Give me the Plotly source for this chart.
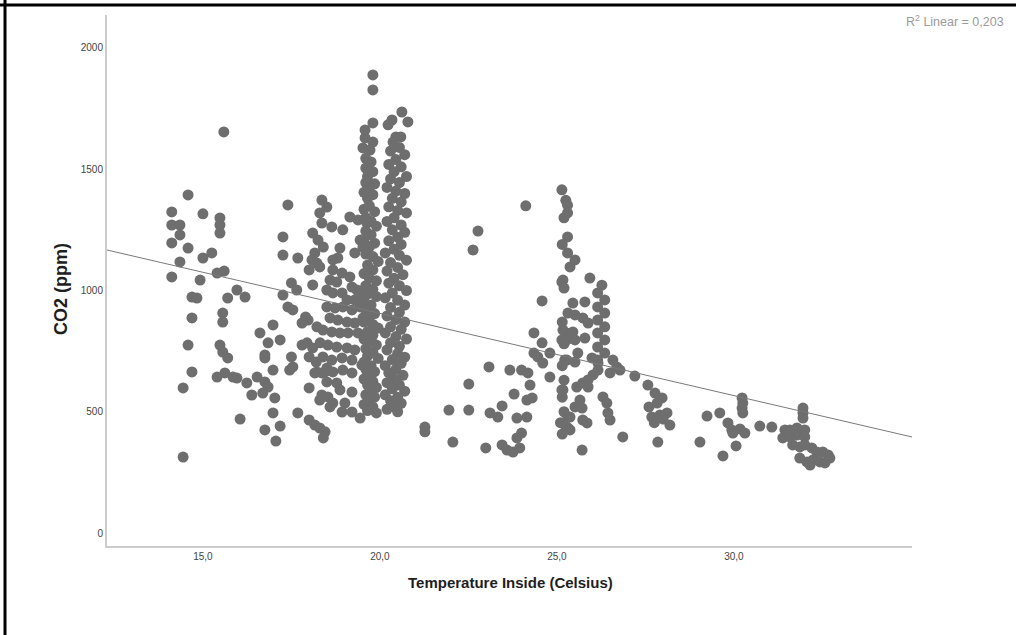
import plotly.graph_objects as go

# ---- data (temperature inside in Celsius, CO2 in ppm) ----
points_15 = [
    (15.59, 1654), (14.58, 1394), (14.12, 1324), (15.0, 1316), (15.48, 1299), (15.48, 1270), (15.48, 1237),
    (14.12, 1270), (14.35, 1270), (14.35, 1229), (14.12, 1196), (14.58, 1175), (15.25, 1155), (15.0, 1134),
    (14.35, 1118), (14.12, 1056), (14.92, 1043), (15.4, 1072), (15.6, 1080), (17.4, 1353), (17.26, 1221),
    (17.26, 1146), (17.68, 1134), (17.5, 1031), (17.65, 1002), (17.26, 981), (17.4, 932), (17.54, 920),
    (14.69, 973), (14.83, 969), (15.96, 1002), (15.7, 969), (16.19, 973), (14.69, 887), (15.56, 907),
    (15.56, 870), (14.58, 775), (15.48, 775), (15.56, 746), (15.7, 722), (14.69, 664), (14.44, 598),
    (14.44, 313), (15.4, 643), (15.62, 660), (15.85, 643), (15.96, 639), (16.24, 619), (16.53, 643),
    (16.75, 623), (16.84, 602), (16.38, 569), (16.69, 577), (17.03, 557), (16.98, 495), (16.05, 470),
    (16.75, 425), (17.18, 441), (17.06, 379), (16.61, 825), (16.98, 858), (17.18, 796), (16.84, 784),
    (16.75, 734), (16.75, 722), (16.98, 672), (17.5, 726), (17.45, 672), (17.54, 685), (17.68, 495),
]

points_18 = [
    (18.36, 1373), (18.5, 1344), (18.3, 1320), (18.36, 1278), (18.1, 1237), (18.25, 1208), (18.4, 1179),
    (18.16, 1155), (18.08, 1126), (18.22, 1113), (18.0, 1085), (18.3, 1097), (18.64, 1262), (18.95, 1250),
    (18.87, 1175), (18.1, 1023), (17.9, 891), (17.97, 878), (17.8, 866), (17.94, 784), (17.8, 775),
    (18.1, 763), (18.0, 726), (18.2, 705), (18.16, 660), (18.36, 660), (18.5, 680), (18.0, 598),
    (18.36, 569), (18.3, 548), (18.0, 466), (18.16, 445), (18.3, 433), (18.45, 417), (18.4, 392),
]

points_19 = [
    (18.67, 1126), (18.81, 1134), (18.67, 1085), (18.93, 1072), (18.59, 1043), (18.78, 1035), (18.50, 1002),
    (18.67, 990), (18.93, 990), (19.15, 1056), (19.21, 1014), (19.35, 1002), (19.07, 961), (19.29, 961),
    (19.49, 990), (18.50, 932), (18.73, 928), (18.95, 932), (19.21, 920), (19.44, 932), (18.59, 887),
    (18.81, 878), (19.07, 870), (19.29, 866), (19.52, 887), (18.22, 850), (18.39, 837), (18.64, 829),
    (18.87, 825), (19.10, 825), (19.38, 825), (18.31, 784), (18.53, 775), (18.78, 767), (19.07, 763),
    (19.29, 755), (18.39, 726), (18.64, 713), (18.93, 722), (19.21, 713), (19.49, 693), (18.22, 664),
    (18.45, 664), (18.67, 664), (18.95, 672), (19.21, 660), (18.50, 623), (18.78, 619), (18.87, 590),
    (19.21, 581), (18.53, 561), (18.67, 536), (18.93, 499), (19.21, 499), (19.44, 474), (18.59, 520),
    (19.01, 536), (19.15, 1303), (19.38, 1291), (19.63, 1278), (19.44, 1208), (19.29, 1155), (19.52, 1179),
]

points_19_8 = [
    (19.8, 1889), (19.8, 1827), (19.8, 1691), (19.58, 1662), (19.58, 1629), (19.8, 1612), (19.52, 1588),
    (19.72, 1579), (19.6, 1545), (19.75, 1530), (19.6, 1505), (19.8, 1490), (19.65, 1470), (19.6, 1445),
    (19.85, 1440), (19.7, 1420), (19.55, 1405), (19.8, 1395), (19.65, 1380), (19.7, 1350), (19.55, 1335),
    (19.85, 1325), (19.6, 1300), (19.75, 1285), (19.9, 1265), (19.6, 1245), (19.75, 1230), (19.55, 1210),
    (19.85, 1195), (19.7, 1180), (19.6, 1150), (19.8, 1140), (19.95, 1120), (19.65, 1105), (19.8, 1085),
    (19.55, 1070), (19.7, 1050), (19.9, 1040), (19.6, 1020), (19.8, 1005), (19.65, 985), (19.9, 975),
    (19.55, 955), (19.75, 940), (19.6, 920), (19.85, 905), (19.7, 890), (19.55, 870), (19.8, 860),
    (19.95, 845), (19.65, 830), (19.8, 815), (19.55, 800), (19.7, 790), (19.9, 775), (19.6, 760),
    (19.8, 745), (19.65, 730), (19.95, 720), (19.55, 705), (19.75, 690), (19.6, 675), (19.85, 665),
    (19.7, 650), (19.55, 635), (19.8, 625), (19.65, 610), (19.9, 600), (19.75, 585), (19.6, 570),
    (19.85, 560), (19.7, 545), (19.55, 530), (19.8, 520), (19.65, 505), (19.9, 495),
]

points_20_5 = [
    (20.62, 1736), (20.34, 1703), (20.79, 1695), (20.23, 1683), (20.45, 1633), (20.59, 1633), (20.37, 1612),
    (20.55, 1590), (20.3, 1575), (20.7, 1560), (20.45, 1540), (20.25, 1520), (20.6, 1510), (20.4, 1490),
    (20.75, 1470), (20.3, 1460), (20.55, 1445), (20.2, 1425), (20.45, 1410), (20.7, 1400), (20.35, 1380),
    (20.6, 1365), (20.25, 1345), (20.5, 1330), (20.75, 1320), (20.4, 1300), (20.2, 1285), (20.6, 1270),
    (20.35, 1250), (20.7, 1240), (20.5, 1220), (20.25, 1205), (20.6, 1190), (20.4, 1170), (20.15, 1155),
    (20.55, 1145), (20.75, 1125), (20.3, 1115), (20.5, 1095), (20.2, 1080), (20.65, 1065), (20.4, 1050),
    (20.25, 1030), (20.55, 1020), (20.75, 1000), (20.35, 990), (20.15, 970), (20.5, 960), (20.7, 940),
    (20.3, 930), (20.55, 910), (20.2, 895), (20.45, 880), (20.7, 870), (20.3, 850), (20.6, 840),
    (20.15, 825), (20.45, 810), (20.75, 800), (20.3, 785), (20.55, 770), (20.2, 755), (20.5, 740),
    (20.7, 725), (20.35, 715), (20.6, 700), (20.15, 690), (20.45, 675), (20.25, 660), (20.65, 650),
    (20.4, 635), (20.2, 620), (20.55, 610), (20.35, 595), (20.7, 585), (20.15, 570), (20.5, 560),
    (20.3, 545), (20.6, 535), (20.4, 520), (20.2, 510), (20.5, 500),
]

points_23 = [
    (25.14, 1415), (24.12, 1349), (22.77, 1245), (22.63, 1167), (25.14, 1035), (24.58, 957),
    (24.35, 825), (24.58, 784), (24.8, 742), (24.35, 742), (24.46, 726), (24.6, 701),
    (25.28, 825), (25.14, 796), (25.28, 713), (24.8, 643), (25.14, 590),
    (23.08, 685), (23.67, 672), (24.0, 672), (24.18, 660), (24.24, 610), (24.15, 548), (24.3, 557),
    (22.51, 614), (23.79, 573), (21.95, 507), (22.51, 507), (23.45, 524), (23.11, 495), (23.33, 478),
    (23.87, 474), (24.15, 478), (21.27, 437), (21.27, 417), (22.06, 375), (22.99, 351),
    (23.45, 363), (23.59, 342), (23.76, 334), (23.95, 351), (24.0, 412), (23.87, 392),
    (25.31, 478), (25.31, 433),
]

points_25 = [
    (25.93, 1051), (26.27, 1022), (25.45, 948), (25.79, 953), (25.31, 907), (25.51, 899), (25.73, 887),
    (25.88, 866), (26.15, 990), (26.35, 961), (26.15, 932), (26.35, 907), (26.15, 878), (26.35, 850),
    (26.15, 825), (26.35, 796), (26.15, 767), (26.35, 742), (26.15, 713), (25.17, 837), (25.45, 829),
    (25.28, 796), (25.51, 796), (25.79, 804), (25.22, 713), (25.51, 705), (25.59, 742), (25.99, 722),
    (26.16, 701), (26.58, 713), (26.69, 685), (26.5, 660), (26.78, 672), (26.3, 561), (26.41, 536),
    (26.44, 495), (26.5, 466), (25.56, 602), (25.73, 619), (25.88, 602), (25.65, 548), (25.51, 520),
    (25.71, 515), (25.37, 478), (25.73, 466), (25.85, 454), (25.37, 425), (25.71, 342), (25.17, 590),
    (26.16, 672), (26.02, 652), (25.88, 631), (25.37, 1097), (25.17, 1043), (25.51, 1126),
    (25.3, 1320), (25.3, 1221), (25.3, 1155), (25.25, 1372), (25.3, 1352), (25.2, 1300), (25.15, 1190),
    (25.2, 1010), (25.15, 870), (25.2, 780), (25.15, 690), (25.2, 630), (25.15, 560), (25.2, 500),
    (25.1, 455), (25.25, 440), (25.15, 408),
]

points_28 = [
    (27.2, 647), (27.57, 610), (27.77, 577), (27.97, 557), (27.83, 536), (27.68, 478), (27.91, 487),
    (28.11, 495), (28.19, 445), (26.86, 396), (27.85, 375), (29.04, 375), (29.24, 482), (27.6, 520),
    (27.75, 455), (28.0, 470), (30.23, 557), (30.25, 536), (30.23, 515), (30.25, 495), (29.6, 495),
    (29.83, 454), (29.94, 425), (30.17, 429), (30.31, 412), (29.97, 412), (29.69, 318), (30.06, 359),
    (30.73, 441), (31.07, 437),
]

points_32 = [
    (31.95, 515), (31.95, 495), (31.95, 474), (31.44, 425), (31.58, 425), (31.78, 433), (32.0, 425),
    (31.38, 392), (31.58, 396), (31.78, 404), (32.0, 396), (31.66, 363), (31.86, 355), (32.0, 363),
    (32.2, 351), (32.34, 334), (32.51, 334), (32.66, 322), (31.86, 309), (32.06, 293), (32.23, 301),
    (32.43, 293), (32.57, 289), (32.71, 309), (32.15, 280),
]

# linear fit line as drawn (endpoints at the axis limits)
fit_temp = [12.29, 35.03]
fit_co2 = [1167, 396]

x_ticks = [15, 20, 25, 30]
x_tick_labels = ["15,0", "20,0", "25,0", "30,0"]
y_ticks = [0, 500, 1000, 1500, 2000]
y_tick_labels = ["0", "500", "1000", "1500", "2000"]

all_points = points_15 + points_18 + points_19 + points_19_8 + points_20_5 + points_23 + points_25 + points_28 + points_32
temperature = [p[0] for p in all_points]
co2 = [p[1] for p in all_points]

fig = go.Figure()
fig.add_trace(go.Scatter(
    x=temperature, y=co2, mode="markers",
    marker=dict(size=11, color="#6e6e6e", line=dict(width=0)),
    hoverinfo="skip", cliponaxis=False,
))
fig.add_trace(go.Scatter(
    x=fit_temp, y=fit_co2, mode="lines",
    line=dict(color="#7a7a7a", width=1),
    hoverinfo="skip",
))

W, H = 1016, 635
L, R, T, B = 107, 104, 15, 89
pw, ph = W - L - R, H - T - B

def px(x):
    return (x - L) / pw

def py(y):
    return (H - B - y) / ph

FONT = "Liberation Sans, Arial, sans-serif"

fig.update_layout(
    width=W, height=H,
    margin=dict(l=L, r=R, t=T, b=B, pad=0),
    plot_bgcolor="white", paper_bgcolor="white",
    showlegend=False,
    font=dict(family=FONT),
    xaxis=dict(
        range=[12.29, 35.03], tickvals=x_ticks, ticktext=x_tick_labels,
        showgrid=False, zeroline=False, showline=True, linecolor="#cccccc", linewidth=2,
        ticks="", tickfont=dict(size=10, color="#444444"),
    ),
    yaxis=dict(
        range=[-53.6, 2136], tickvals=y_ticks, ticktext=y_tick_labels,
        showgrid=False, zeroline=False, showline=True, linecolor="#cccccc", linewidth=2,
        ticks="", tickfont=dict(size=10, color="#444444"),
    ),
    annotations=[
        dict(text="CO2 (ppm)", xref="paper", yref="paper", x=px(61), y=py(289),
             textangle=-90, showarrow=False, xanchor="center", yanchor="middle",
             font=dict(size=18, color="#1e1e1e", family=FONT, weight="bold")),
        dict(text="Temperature Inside (Celsius)", xref="paper", yref="paper", x=px(510), y=py(582),
             showarrow=False, xanchor="center", yanchor="middle",
             font=dict(size=15, color="#1e1e1e", family=FONT, weight="bold")),
        dict(text="R<sup>2</sup> Linear = 0,203", xref="paper", yref="paper", x=px(904), y=py(21),
             showarrow=False, xanchor="left", yanchor="middle",
             font=dict(size=12.5, color="#9a9a9a", family=FONT)),
    ],
    shapes=[
        dict(type="line", xref="paper", yref="paper", x0=px(0), x1=px(W), y0=py(5), y1=py(5),
             line=dict(color="black", width=3)),
        dict(type="line", xref="paper", yref="paper", x0=px(5), x1=px(5), y0=py(0), y1=py(H),
             line=dict(color="black", width=3)),
    ],
)

fig.write_html("out.html")
